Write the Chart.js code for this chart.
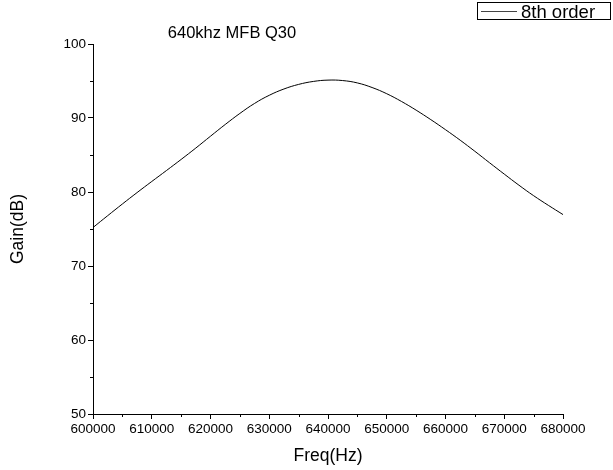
<!DOCTYPE html>
<html>
<head>
<meta charset="utf-8">
<script src="https://cdn.jsdelivr.net/npm/chart.js@4/dist/chart.umd.min.js"></script>
<style>
html,body{margin:0;padding:0;background:#fff;}
canvas{display:block;}
</style>
</head>
<body>
<canvas id="c" width="613" height="470"></canvas>
<script>
const chartTitle = "640khz MFB Q30";
const seriesLabel = "8th order";
const xTitle = "Freq(Hz)";
const yTitle = "Gain(dB)";
const freq = [600000,602500,605000,607500,610000,612500,615000,617500,620000,622500,625000,627500,630000,632500,635000,637500,640000,642500,645000,647500,650000,652500,655000,657500,660000,662500,665000,667500,670000,672500,675000,677500,680000];
const gain = [75.2,76.8,78.38,79.92,81.42,82.9,84.4,85.94,87.54,89.12,90.62,91.97,93.07,93.92,94.54,94.94,95.12,95.06,94.74,94.12,93.28,92.24,91.06,89.78,88.42,87.0,85.5,83.95,82.42,80.92,79.5,78.2,76.95];
const yMajor = [50,60,70,80,90,100];
const yMinor = [55,65,75,85,95];
const xMajor = [600000,610000,620000,630000,640000,650000,660000,670000,680000];
const xMinor = [605000,615000,625000,635000,645000,655000,665000,675000];

const FONT = "'Liberation Sans', Arial, sans-serif";

const extras = {
  id: 'extras',
  afterDraw(chart) {
    const ctx = chart.ctx;
    const xs = chart.scales.x, ys = chart.scales.y;
    const area = chart.chartArea;
    ctx.save();
    ctx.strokeStyle = '#000';
    ctx.lineWidth = 1;
    ctx.beginPath();
    yMinor.forEach(v => {
      const p = Math.round(ys.getPixelForValue(v)) + 0.5;
      ctx.moveTo(area.left - 3, p); ctx.lineTo(area.left, p);
    });
    xMinor.forEach(v => {
      const p = Math.round(xs.getPixelForValue(v)) + 0.5;
      ctx.moveTo(p, area.bottom); ctx.lineTo(p, area.bottom + 3);
    });
    ctx.stroke();
    // title
    ctx.fillStyle = '#000';
    ctx.font = "16.5px " + FONT;
    ctx.textAlign = 'center';
    ctx.textBaseline = 'alphabetic';
    ctx.fillText(chartTitle, 232, 38);
    // legend
    ctx.strokeStyle = '#000';
    ctx.strokeRect(477.5, 2.5, 133, 17);
    ctx.strokeStyle = '#444';
    ctx.beginPath();
    ctx.moveTo(481, 11.5); ctx.lineTo(517, 11.5);
    ctx.stroke();
    ctx.font = "18.5px " + FONT;
    ctx.textAlign = 'left';
    ctx.fillText(chart.data.datasets[0].label, 521, 17.5);
    ctx.restore();
  }
};

new Chart(document.getElementById('c'), {
  type: 'line',
  data: {
    datasets: [{
      label: seriesLabel,
      data: freq.map((f, i) => ({x: f, y: gain[i]})),
      borderColor: '#000',
      borderWidth: 1,
      pointRadius: 0,
      tension: 0.4,
      fill: false
    }]
  },
  options: {
    responsive: false,
    devicePixelRatio: 1,
    animation: false,
    layout: {padding: {left: 0, right: 50, top: 44, bottom: 0}},
    plugins: {legend: {display: false}, title: {display: false}, tooltip: {enabled: false}},
    scales: {
      x: {
        type: 'linear',
        min: 600000, max: 680000,
        afterFit(s) { s.height = 56; },
        afterBuildTicks(s) { s.ticks = xMajor.map(v => ({value: v})); },
        grid: {drawOnChartArea: false, drawTicks: true, tickLength: 5, color: '#000'},
        border: {display: true, color: '#000', width: 1},
        ticks: {color: '#000', font: {family: FONT, size: 13.5}, padding: 2, maxRotation: 0, autoSkip: false,
                callback: v => String(v)},
        title: {display: true, text: xTitle, color: '#000', font: {family: FONT, size: 17.5}, padding: {top: 0, bottom: 3}}
      },
      y: {
        type: 'linear',
        min: 50, max: 100,
        afterFit(s) { s.width = 93; },
        afterBuildTicks(s) { s.ticks = yMajor.map(v => ({value: v})); },
        grid: {drawOnChartArea: false, drawTicks: true, tickLength: 5, color: '#000'},
        border: {display: true, color: '#000', width: 1},
        ticks: {color: '#000', font: {family: FONT, size: 13.5}, padding: 2, autoSkip: false,
                callback: v => String(v)},
        title: {display: true, text: yTitle, color: '#000', font: {family: FONT, size: 17.5}, padding: {top: 8, bottom: 0}}
      }
    }
  },
  plugins: [extras]
});
</script>
</body>
</html>
